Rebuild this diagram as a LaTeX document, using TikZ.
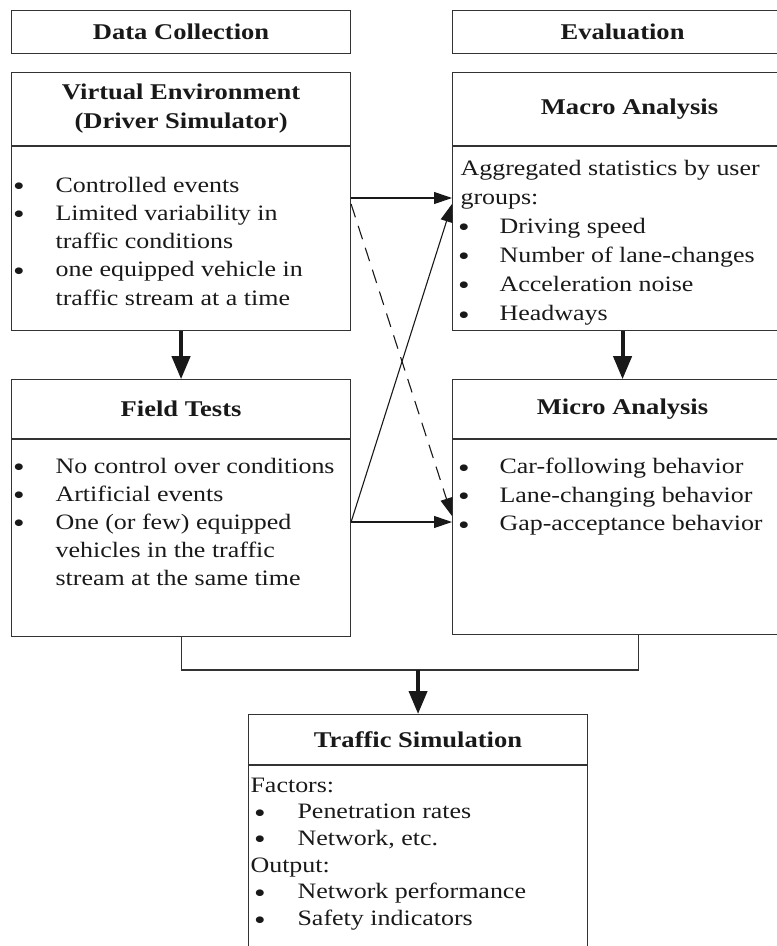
\documentclass[tikz,border=0pt]{standalone}
\usepackage{fontspec}
\setmainfont[FakeStretch=1.18]{Liberation Serif}
\usetikzlibrary{arrows.meta,positioning}

% lines of a box body: name, bullet x, text x, plain x, first baseline, step, list
% (0 = continued line, 1 = bullet line, 2 = plain line)
\newcommand{\boxlines}[7]{%
  \foreach \k/\t [count=\i from 0] in {#7}{
    \pgfmathsetmacro{\yy}{#5+#6*\i}
    \ifcase\k
      \node[txt, anchor=base west] (#1-\i) at (#3,\yy) {\t};
    \or
      \node[dot] (#1-b\i) at (#2,\yy+3.5) {\smash{\textbullet}};
      \node[txt, anchor=base west] (#1-\i) at (#3,\yy) {\t};
    \or
      \node[txt, anchor=base west] (#1-\i) at (#4,\yy) {\t};
    \fi
  }}

\begin{document}
\begin{tikzpicture}[
    x=1pt, y=-1pt,
    line width=1.1pt,
    node distance=48pt,
    box/.style={draw=black!80, anchor=north west, inner sep=0pt, minimum width=339pt,
      font=\fontsize{22.5}{29}\selectfont\bfseries, text=black!90, align=center},
    wide/.style={minimum width=340pt},
    txt/.style={font=\fontsize{22}{28}\selectfont, text=black!90, inner sep=0pt},
    dot/.style={font=\fontsize{28}{28}\selectfont, text=black!90, inner sep=0pt, anchor=base},
    bigarrow/.style={line width=4pt, black!90, -{Triangle[length=23pt,width=18pt]}},
    thinarrow/.style={black!90, -{Triangle[length=18pt,width=12pt]}},
  ]
  \clip (0,0) rectangle (777,946);

  % column titles
  \node (dc) [box, minimum height=43pt] at (11,10) {Data Collection};
  \node (ev) [box, wide, minimum height=43pt] at (452,10) {Evaluation};

  % data collection
  \node (vehead) [box, minimum height=73pt] at (11,72) {Virtual Environment\\(Driver Simulator)};
  \node (vebody) [box, minimum height=184pt, below=0pt of vehead] {};
  \node (fthead) [box, minimum height=59pt, below=of vebody] {Field Tests};
  \node (ftbody) [box, minimum height=197pt, below=0pt of fthead] {};

  % evaluation
  \node (mahead) [box, wide, minimum height=73pt] at (452,72) {\hspace*{14pt}Macro Analysis};
  \node (mabody) [box, wide, minimum height=184pt, below=0pt of mahead] {};
  \node (mihead) [box, wide, minimum height=59pt, below=of mabody] {Micro Analysis};
  \node (mibody) [box, wide, minimum height=195pt, below=0pt of mihead] {};

  % simulation
  \node (simhead) [box, minimum height=50pt] at (248,714) {Traffic Simulation};
  \node (simbody) [box, minimum height=220pt, below=0pt of simhead] {};

  \boxlines{ve}{19}{55}{55}{192}{28.3}{1/Controlled events, 1/Limited variability in,
    0/traffic conditions, 1/one equipped vehicle in, 0/traffic stream at a time}
  \boxlines{ft}{19}{55}{55}{473}{28.1}{1/No control over conditions, 1/Artificial events,
    1/One (or few) equipped, 0/vehicles in the traffic, 0/stream at the same time}
  \boxlines{ma}{464}{499}{460}{175}{29.1}{2/Aggregated statistics by user, 2/groups:,
    1/Driving speed, 1/Number of lane-changes, 1/Acceleration noise, 1/Headways}
  \boxlines{mi}{464}{499}{460}{473.5}{28.7}{1/Car-following behavior,
    1/Lane-changing behavior, 1/Gap-acceptance behavior}
  \boxlines{sim}{260}{297}{250}{792}{26.7}{2/Factors:, 1/Penetration rates, 1/{Network, etc.},
    2/Output:, 1/Network performance, 1/Safety indicators}

  % connector ends
  \coordinate (ve-out) at (vebody.east |- 0,198);
  \coordinate (ve-out2) at (vebody.east |- 0,204);
  \coordinate (ft-out) at (ftbody.east |- 0,522);
  \coordinate (ma-in) at (mabody.west |- 0,198);
  \coordinate (ma-in2) at (mabody.west |- 0,204);
  \coordinate (mi-in) at (mibody.west |- 0,522);
  \coordinate (mi-in2) at (mibody.west |- 0,516);
  \coordinate (mi-foot) at ([xshift=16pt]mibody.south);
  \coordinate (join) at ([yshift=44pt]simhead.north);

  \draw[bigarrow] (vebody) -- (fthead);
  \draw[bigarrow] (mabody) -- (mihead);

  \draw[thinarrow] (ve-out) -- (ma-in);
  \draw[thinarrow] (ft-out) -- (mi-in);
  \draw[thinarrow] (ft-out) -- (ma-in2);
  \draw[thinarrow, dash pattern=on 14pt off 9pt] (ve-out2) -- (mi-in2);

  \draw[black!80] (ftbody.south) |- (mi-foot |- join) -- (mi-foot);
  \draw[bigarrow] (join) -- (simhead.north);
\end{tikzpicture}
\end{document}
